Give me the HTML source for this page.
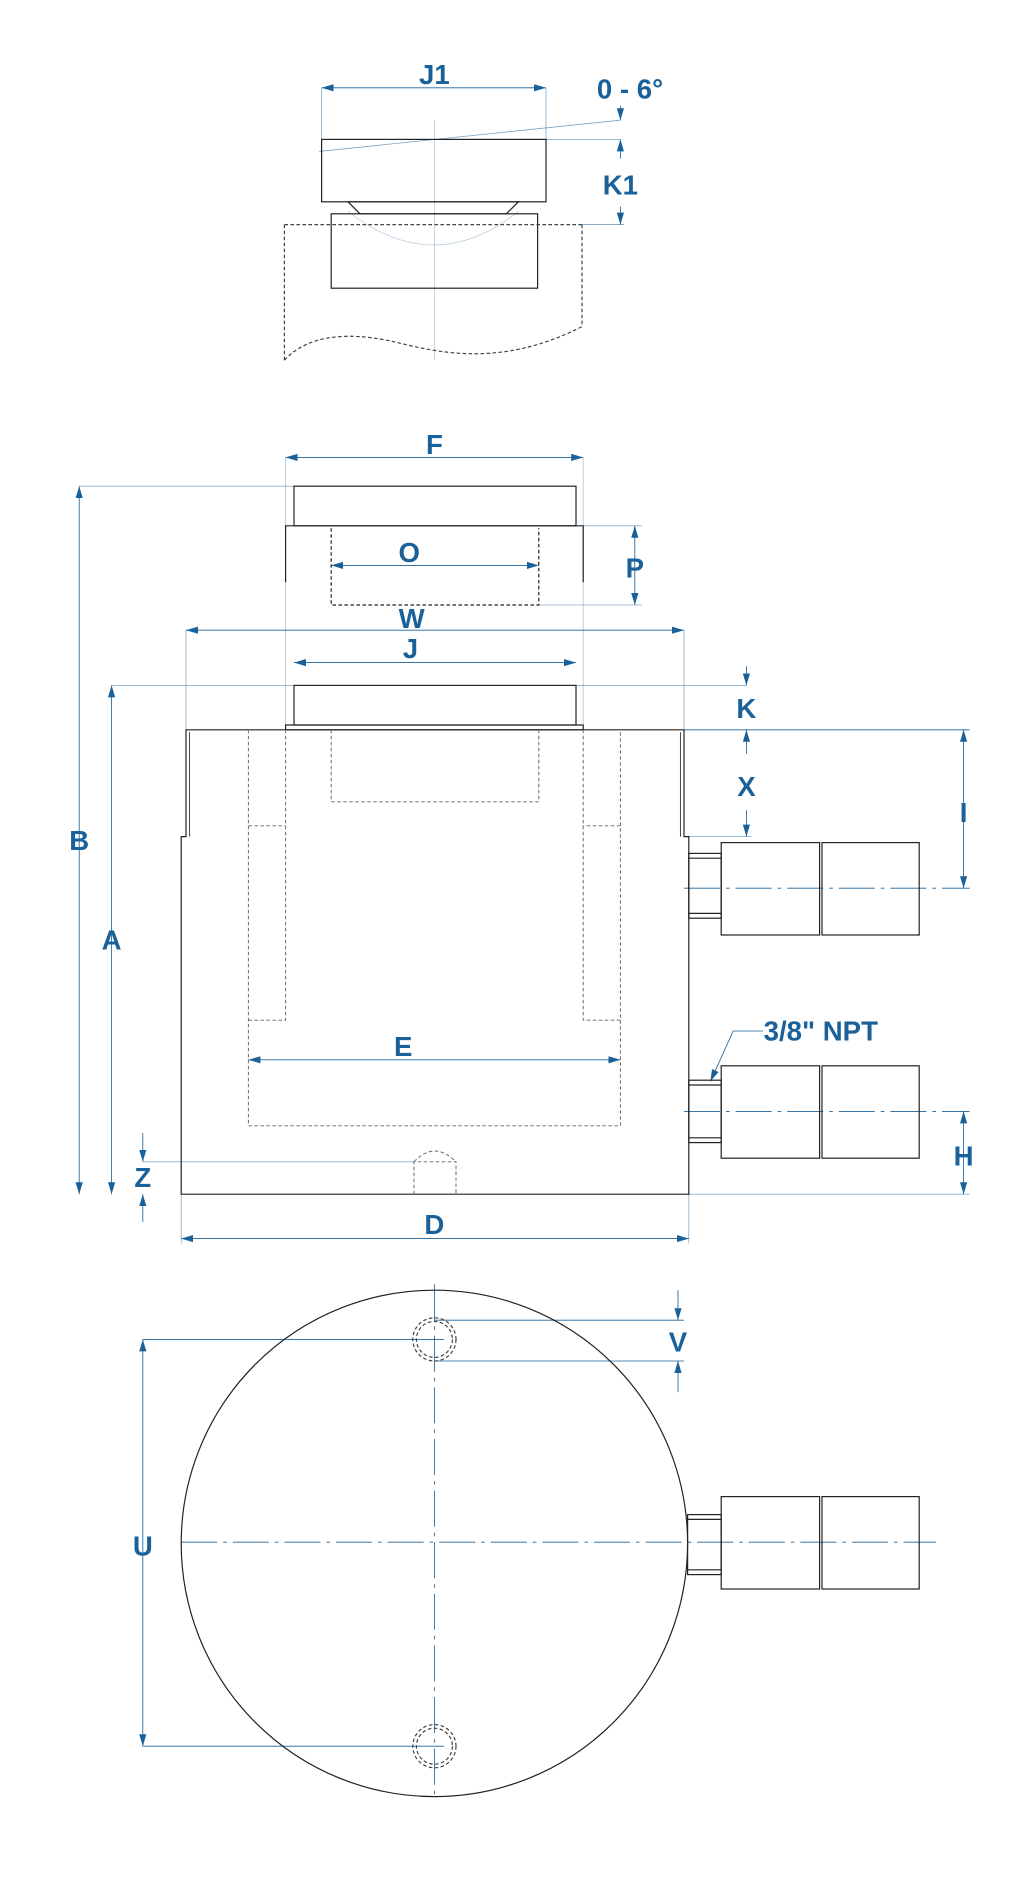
<!DOCTYPE html>
<html><head><meta charset="utf-8"><style>
html,body{margin:0;padding:0;background:#fff;}
svg{display:block;}
text{font-family:"Liberation Sans",sans-serif;fill:#1a6199;font-size:23px;font-weight:bold;text-anchor:middle;}
</style></head><body>
<svg width="1032" height="1882" viewBox="0 0 860 1568" xmlns="http://www.w3.org/2000/svg">
<defs>
<marker id="a" viewBox="0 0 10 6" refX="10" refY="3" markerWidth="10" markerHeight="6" orient="auto-start-reverse" markerUnits="userSpaceOnUse"><path d="M0,0 L10,3 L0,6 z" fill="#1a6199"/></marker>
</defs>
<g fill="none" stroke="#1a6199" stroke-width="0.7">
<line x1="268" y1="73" x2="455" y2="73" marker-start="url(#a)" marker-end="url(#a)"/>
<line x1="268" y1="73" x2="268" y2="116" stroke-opacity="0.5"/>
<line x1="455" y1="73" x2="455" y2="116" stroke-opacity="0.5"/>
<line x1="266" y1="126" x2="517" y2="100" stroke-opacity="0.6"/>
<line x1="517" y1="88" x2="517" y2="100" marker-end="url(#a)"/>
<line x1="517" y1="116" x2="517" y2="132" marker-start="url(#a)"/>
<line x1="517" y1="172" x2="517" y2="187" marker-end="url(#a)"/>
<line x1="455" y1="116" x2="517" y2="116" stroke-opacity="0.5"/>
<line x1="485" y1="187" x2="520" y2="187" stroke-opacity="0.6"/>
<line x1="362" y1="100" x2="362" y2="300" stroke-opacity="0.3"/>
<path d="M290,176 Q362,232 432,176" stroke-opacity="0.3"/>
<line x1="238" y1="381" x2="486" y2="381" marker-start="url(#a)" marker-end="url(#a)"/>
<line x1="238" y1="381" x2="238" y2="604" stroke-opacity="0.35"/>
<line x1="486" y1="381" x2="486" y2="604" stroke-opacity="0.35"/>
<line x1="66" y1="405" x2="66" y2="995" marker-start="url(#a)" marker-end="url(#a)"/>
<line x1="66" y1="405" x2="245" y2="405" stroke-opacity="0.5"/>
<line x1="276" y1="471" x2="449" y2="471" marker-start="url(#a)" marker-end="url(#a)"/>
<line x1="529" y1="438" x2="529" y2="504" marker-start="url(#a)" marker-end="url(#a)"/>
<line x1="486" y1="438" x2="535" y2="438" stroke-opacity="0.5"/>
<line x1="449" y1="504" x2="535" y2="504" stroke-opacity="0.5"/>
<line x1="155" y1="525" x2="570" y2="525" marker-start="url(#a)" marker-end="url(#a)"/>
<line x1="155" y1="525" x2="155" y2="608" stroke-opacity="0.5"/>
<line x1="570" y1="525" x2="570" y2="608" stroke-opacity="0.5"/>
<line x1="245" y1="552" x2="480" y2="552" marker-start="url(#a)" marker-end="url(#a)"/>
<line x1="93" y1="571" x2="93" y2="995" marker-start="url(#a)" marker-end="url(#a)"/>
<line x1="93" y1="571" x2="245" y2="571" stroke-opacity="0.5"/>
<line x1="480" y1="571" x2="622" y2="571" stroke-opacity="0.5"/>
<line x1="622" y1="555" x2="622" y2="571" marker-end="url(#a)"/>
<line x1="622" y1="608" x2="622" y2="628" marker-start="url(#a)"/>
<line x1="622" y1="675" x2="622" y2="697" marker-end="url(#a)"/>
<line x1="574" y1="697" x2="626" y2="697" stroke-opacity="0.5"/>
<line x1="570" y1="608" x2="808" y2="608"/>
<line x1="803" y1="608" x2="803" y2="740" marker-start="url(#a)" marker-end="url(#a)"/>
<line x1="570" y1="740" x2="808" y2="740" stroke-dasharray="30,5,3,5"/>
<line x1="570" y1="926" x2="808" y2="926" stroke-dasharray="30,5,3,5"/>
<line x1="803" y1="926" x2="803" y2="995" marker-start="url(#a)" marker-end="url(#a)"/>
<line x1="574" y1="995" x2="808" y2="995" stroke-opacity="0.5"/>
<line x1="207" y1="883" x2="517" y2="883" marker-start="url(#a)" marker-end="url(#a)"/>
<line x1="119" y1="944" x2="119" y2="968" marker-end="url(#a)"/>
<line x1="119" y1="995" x2="119" y2="1018" marker-start="url(#a)"/>
<line x1="119" y1="968" x2="345" y2="968" stroke-opacity="0.5"/>
<line x1="151" y1="1032" x2="574" y2="1032" marker-start="url(#a)" marker-end="url(#a)"/>
<line x1="151" y1="995" x2="151" y2="1036" stroke-opacity="0.5"/>
<line x1="574" y1="995" x2="574" y2="1036" stroke-opacity="0.5"/>
<polyline points="636,859 611,859 592,901" marker-end="url(#a)"/>
<line x1="151" y1="1285" x2="780" y2="1285" stroke-dasharray="30,5,3,5"/>
<line x1="362" y1="1070" x2="362" y2="1500" stroke-dasharray="30,5,3,5"/>
<line x1="362" y1="1100" x2="570" y2="1100"/>
<line x1="362" y1="1134" x2="570" y2="1134"/>
<line x1="565" y1="1075" x2="565" y2="1100" marker-end="url(#a)"/>
<line x1="565" y1="1134" x2="565" y2="1160" marker-start="url(#a)"/>
<line x1="119" y1="1116" x2="119" y2="1455" marker-start="url(#a)" marker-end="url(#a)"/>
<line x1="119" y1="1116" x2="370" y2="1116"/>
<line x1="119" y1="1455" x2="370" y2="1455"/>
</g>
<g fill="none" stroke="#222" stroke-width="1">
<rect x="268" y="116" width="187" height="52"/>
<polygon points="290,168 432,168 422,178 300,178"/>
<rect x="276" y="178" width="172" height="62"/>
<path d="M237,187 L485,187 M237,187 L237,300 M485,187 L485,272 M237,300 C260,275 300,278 330,285 C370,295 420,305 485,272" stroke-dasharray="3,2" stroke="#444"/>
<rect x="245" y="405" width="235" height="33"/>
<path d="M238,485 L238,438 L486,438 L486,485"/>
<path d="M276,440 L276,504 L449,504 L449,440" stroke-dasharray="3,2"/>
<rect x="245" y="571" width="235" height="33"/>
<rect x="238" y="604" width="248" height="4"/>
<path d="M155,697 L155,608 L570,608 L570,697 L574,697 L574,995 L151,995 L151,697 Z"/>
<path d="M158,697 L158,610 M567,697 L567,610" stroke-width="0.7"/>
<g stroke-dasharray="3,2" stroke="#666" stroke-width="0.8">
<path d="M207,608 L207,938 L517,938 L517,608"/>
<path d="M238,608 L238,850 L207,850 M207,688 L238,688"/>
<path d="M486,608 L486,850 L517,850 M517,688 L486,688"/>
<path d="M276,608 L276,668 L449,668 L449,608"/>
<path d="M345,995 L345,968 L380,968 L380,995 M345,968 Q362,950 380,968"/>
</g>
<g>
<rect x="574" y="711" width="27" height="54"/><line x1="574" y1="715" x2="601" y2="715"/><line x1="574" y1="761" x2="601" y2="761"/>
<rect x="601" y="702" width="82" height="77"/><rect x="685" y="702" width="81" height="77"/>
<rect x="574" y="900" width="27" height="52"/><line x1="574" y1="904" x2="601" y2="904"/><line x1="574" y1="948" x2="601" y2="948"/>
<rect x="601" y="888" width="82" height="77"/><rect x="685" y="888" width="81" height="77"/>
<rect x="573" y="1262" width="28" height="50"/><line x1="573" y1="1266" x2="601" y2="1266"/><line x1="573" y1="1308" x2="601" y2="1308"/>
<rect x="601" y="1247" width="82" height="77"/><rect x="685" y="1247" width="81" height="77"/>
</g>
<circle cx="362" cy="1286" r="211"/>
<g stroke-dasharray="3,2" stroke="#444">
<circle cx="362" cy="1116" r="15"/><circle cx="362" cy="1116" r="18"/>
<circle cx="362" cy="1455" r="15"/><circle cx="362" cy="1455" r="18"/>
</g>
</g>
<g>
<text x="362" y="70">J1</text>
<text x="525" y="82">0 - 6°</text>
<text x="517" y="162">K1</text>
<text x="362" y="378">F</text>
<text x="341" y="468">O</text>
<text x="529" y="481">P</text>
<text x="343" y="523">W</text>
<text x="342" y="548">J</text>
<text x="66" y="708">B</text>
<text x="93" y="791">A</text>
<text x="622" y="598">K</text>
<text x="622" y="663">X</text>
<text x="803" y="685">I</text>
<text x="336" y="880">E</text>
<text x="684" y="867">3/8" NPT</text>
<text x="803" y="971">H</text>
<text x="119" y="989">Z</text>
<text x="362" y="1028">D</text>
<text x="565" y="1126">V</text>
<text x="119" y="1296">U</text>
</g>
</svg>
</body></html>
